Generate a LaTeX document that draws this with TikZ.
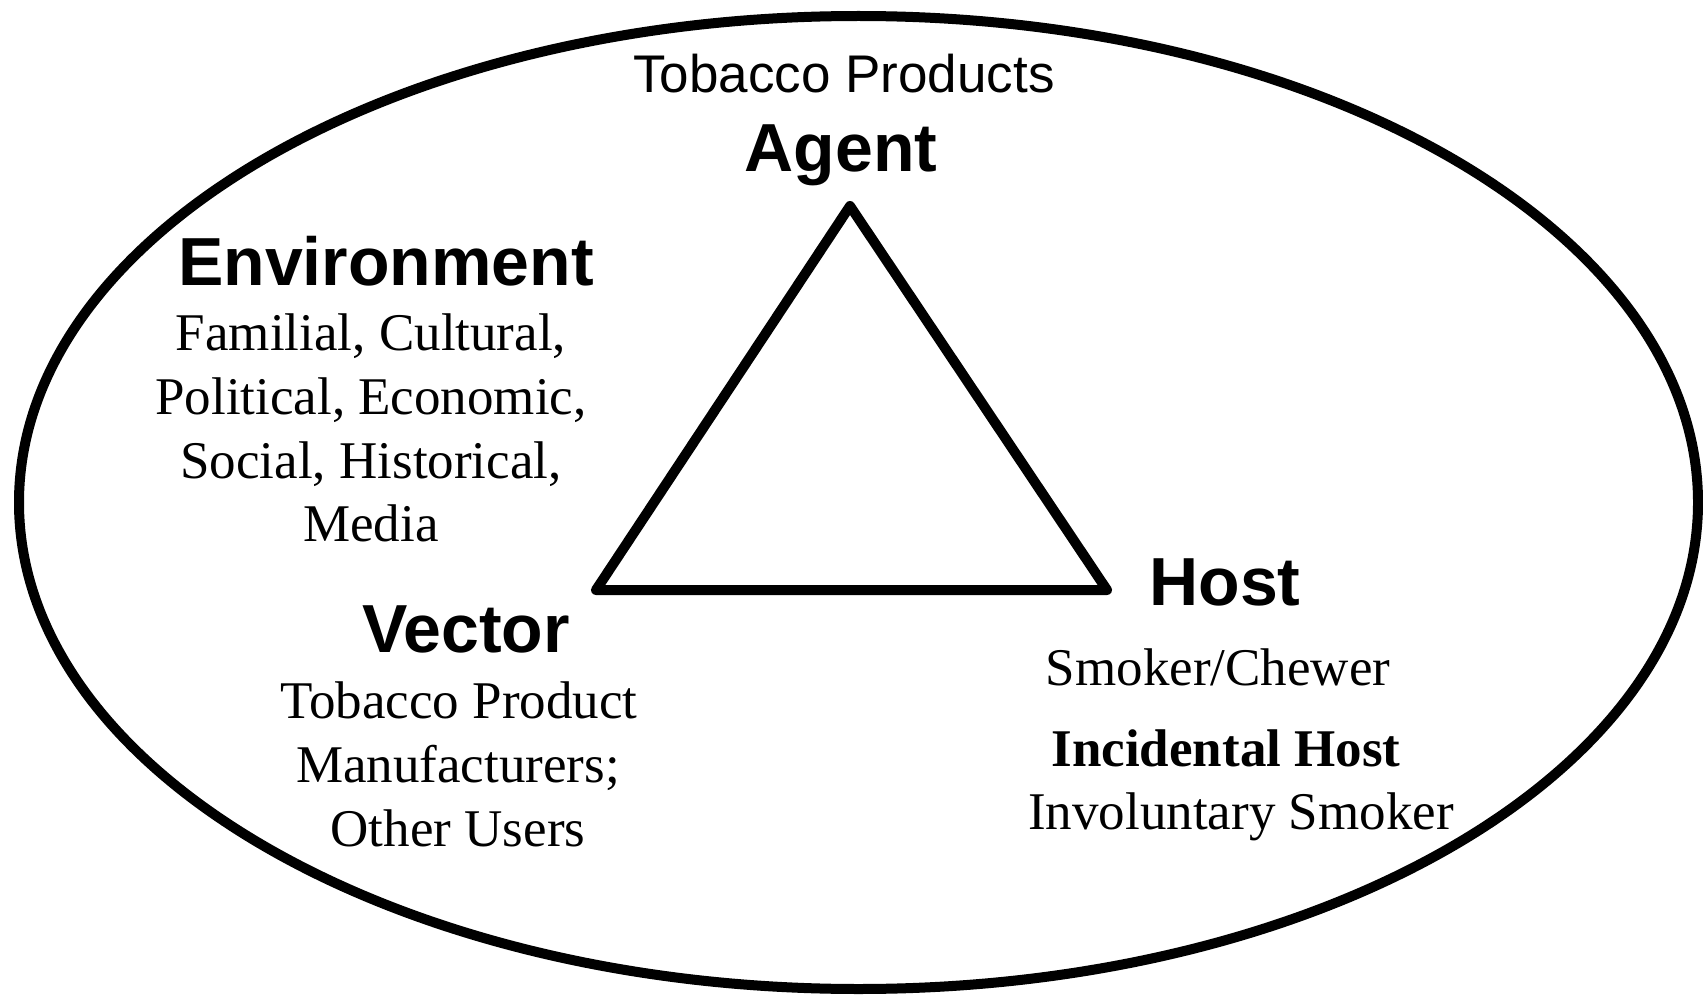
\documentclass[tikz,border=0pt]{standalone}
\usepackage{fontspec}
\setmainfont{Liberation Serif}
\setsansfont{Liberation Sans}
\begin{document}
\begin{tikzpicture}[x=1pt,y=-1pt,
  title/.style={font=\sffamily\bfseries\fontsize{68}{80}\selectfont, anchor=base, inner sep=0pt},
  sanslabel/.style={font=\sffamily\fontsize{53}{64}\selectfont, anchor=base, inner sep=0pt},
  body/.style={font=\fontsize{53}{64}\selectfont, anchor=base, inner sep=0pt},
  bodybold/.style={font=\bfseries\fontsize{53}{64}\selectfont, anchor=base, inner sep=0pt},
  outline/.style={draw=black, line width=10pt},
  tri/.style={draw=black, line width=10pt, line join=round, line cap=round}]
\useasboundingbox (0,0) rectangle (1703,995);
\draw[outline] (858.5,502.5) ellipse [x radius=839.5, y radius=486.5];
\coordinate (apex) at (850,206);
\coordinate (bl) at (596,590);
\coordinate (br) at (1107,590);
\draw[tri] (apex) -- (bl) -- (br) -- cycle;
\node[sanslabel] (tp) at (844,93) {Tobacco Products};
\node[title] (agent) at (841,172) {Agent};
\node[title] (env) at (386,285) {Environment};
\node[body] (e1) at (371,350) {Familial, Cultural,};
\node[body] (e2) at (371,414) {Political, Economic,};
\node[body] (e3) at (371,478) {Social, Historical,};
\node[body] (e4) at (371,541) {Media};
\node[title] (vector) at (466,652) {Vector};
\node[body] (v1) at (459,718) {Tobacco Product};
\node[body] (v2) at (458,782) {Manufacturers;};
\node[body] (v3) at (458,846) {Other Users};
\node[title] (host) at (1225,605) {Host};
\node[body] (h1) at (1218,685) {Smoker/Chewer};
\node[bodybold] (h2) at (1226,766) {Incidental Host};
\node[body] (h3) at (1241,829) {Involuntary Smoker};
\end{tikzpicture}
\end{document}
